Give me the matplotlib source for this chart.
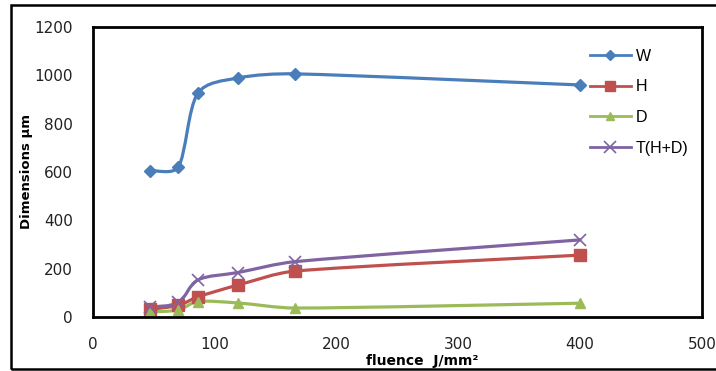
import matplotlib
matplotlib.use("Agg")
import math
import matplotlib.pyplot as plt
from matplotlib.path import Path
from matplotlib.patches import PathPatch, Rectangle
from matplotlib.lines import Line2D

# fluence values (J/mm^2) and measured dimensions (um)
fluence = [47, 70, 86, 119, 166, 400]
w_vals = [606, 620, 925, 989, 1006, 960]
h_vals = [32, 48, 83, 132, 190, 256]
d_vals = [21, 29, 64, 58, 37, 57]
t_vals = [41, 60, 153, 184, 229, 319]

series_names = ["W", "H", "D", "T(H+D)"]
colors = ["#4A7EBB", "#C0504D", "#9BBB59", "#8064A2"]
markers = ["D", "s", "^", "x"]
marker_sizes = [6.5, 8, 7, 9]

x_ticks = [0, 100, 200, 300, 400, 500]
y_ticks = [0, 200, 400, 600, 800, 1000, 1200]

XMAX, YMAX = 500, 1200
# plot area size in pixels, used to smooth in screen-like space
PX_W, PX_H = 609.0, 290.0


def smooth_path(xs, ys):
    # Catmull-Rom bezier through every point, arms capped at a third of the segment
    pts = [(x / XMAX * PX_W, y / YMAX * PX_H) for x, y in zip(xs, ys)]
    n = len(pts)

    def tangent(i):
        a = pts[max(i - 1, 0)]
        b = pts[min(i + 1, n - 1)]
        return (b[0] - a[0]) / 6, (b[1] - a[1]) / 6

    def arm(t, seg):
        size = math.hypot(*t) or 1.0
        k = min(1.0, seg / 3 / size)
        return t[0] * k, t[1] * k

    verts = [pts[0]]
    codes = [Path.MOVETO]
    for i in range(n - 1):
        p1, p2 = pts[i], pts[i + 1]
        seg = math.hypot(p2[0] - p1[0], p2[1] - p1[1])
        a1 = arm(tangent(i), seg)
        a2 = arm(tangent(i + 1), seg)
        verts += [(p1[0] + a1[0], p1[1] + a1[1]), (p2[0] - a2[0], p2[1] - a2[1]), p2]
        codes += [Path.CURVE4] * 3
    verts = [(vx / PX_W * XMAX, vy / PX_H * YMAX) for vx, vy in verts]
    return Path(verts, codes)


fig = plt.figure(figsize=(7.16, 3.71), dpi=100)
ax = fig.add_axes([0.1299, 0.1456, 0.8505, 0.7817])

all_series = [w_vals, h_vals, d_vals, t_vals]
handles = []
for vals, name, c, m, ms in zip(all_series, series_names, colors, markers, marker_sizes):
    ax.add_patch(PathPatch(smooth_path(fluence, vals), facecolor="none",
                           edgecolor=c, lw=2.3, capstyle="round", joinstyle="round"))
    if m == "x":
        ax.plot(fluence, vals, linestyle="none", marker=m, ms=ms, mew=1.2, color=c)
    else:
        ax.plot(fluence, vals, linestyle="none", marker=m, ms=ms, color=c, mec=c)
    handles.append(Line2D([0], [0], color=c, lw=2.0, marker=m,
                          ms=ms - 1, mew=1.2 if m == "x" else 1, label=name))

ax.set_xlim(0, XMAX)
ax.set_ylim(0, YMAX)
ax.set_xticks(x_ticks)
ax.set_yticks(y_ticks)
ax.tick_params(length=0, labelsize=11, labelcolor="#222222")
ax.tick_params(axis="y", pad=14.5)
ax.tick_params(axis="x", pad=14.5)
for s in ax.spines.values():
    s.set_linewidth(2.0)
    s.set_color("black")

ax.set_ylabel("Dimensions µm", fontsize=9.5, fontweight="bold")
ax.yaxis.set_label_coords(-0.0985, 0.5)
ax.set_xlabel("fluence  J/mm²", fontsize=10, fontweight="bold")
ax.xaxis.set_label_coords(0.540, -0.128)

leg = ax.legend(handles=handles, loc="upper left", bbox_to_anchor=(0.792, 0.975),
                frameon=False, handlelength=2.6, handletextpad=0.3,
                labelspacing=0.98, prop={"family": "Liberation Sans", "size": 11.5})

# outer chart frame
fig.patches.append(Rectangle((11 / 716, 2 / 371), 1.2, 364 / 371, transform=fig.transFigure,
                             fill=False, edgecolor="black", lw=1.8))

fig.savefig("out.png", dpi=100)
